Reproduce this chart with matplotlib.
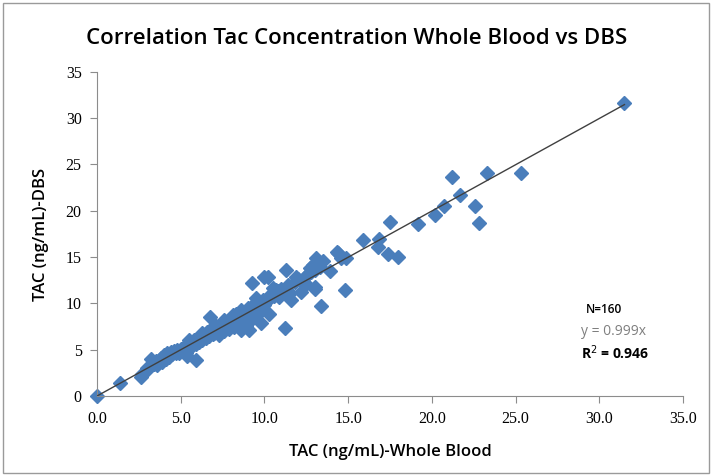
import matplotlib.pyplot as plt
from matplotlib.patches import Rectangle

# TAC whole blood (x) vs DBS (y)
wb = [0.0, 1.4, 2.6, 2.7, 2.9, 3.0, 3.2, 3.2, 3.4, 3.5, 3.6, 3.8, 3.9, 4.0, 4.1,
      4.2, 4.3, 4.4, 4.5, 4.6, 4.7, 4.8, 4.9, 5.0, 5.1, 5.2, 5.3, 5.35, 5.4, 5.5,
      5.6, 5.7, 5.8, 5.9, 5.9, 6.0, 6.1, 6.2, 6.3, 6.4, 6.5, 6.6, 6.7, 6.75, 6.8,
      6.9, 7.0, 7.0, 7.1, 7.2, 7.3, 7.3, 7.4, 7.5, 7.5, 7.6, 7.7, 7.7, 7.8, 7.9,
      7.9, 8.0, 8.0, 8.1, 8.2, 8.2, 8.3, 8.4, 8.4, 8.5, 8.6, 8.6, 8.7, 8.8, 8.8,
      8.9, 8.9, 9.0, 9.1, 9.1, 9.2, 9.24, 9.3, 9.3, 9.4, 9.5, 9.5, 9.6, 9.7, 9.8,
      9.8, 9.9, 10.0, 10.0, 10.1, 10.2, 10.2, 10.3, 10.4, 10.5, 10.6, 10.8, 10.9,
      11.0, 11.2, 11.3, 11.4, 11.5, 11.6, 11.8, 12.0, 12.2, 12.4, 12.4, 12.6, 12.7,
      12.8, 12.9, 13.0, 13.0, 13.05, 13.1, 13.2, 13.3, 13.4, 13.5, 13.9, 14.35,
      14.4, 14.6, 14.8, 14.85, 15.9, 16.8, 16.85, 17.4, 17.5, 18.0, 19.15, 20.2,
      20.7, 21.2, 21.7, 22.6, 22.8, 23.3, 25.3, 31.5,
      5.5, 6.3, 7.1, 7.6, 8.1, 8.6, 9.0, 9.6, 10.7, 11.9, 12.5, 6.9, 8.3]
dbs = [0.0, 1.4, 2.1, 2.4, 2.7, 3.0, 3.4, 4.0, 3.5, 3.8, 3.3, 4.1, 3.7, 4.4, 4.0,
       4.6, 4.2, 4.8, 4.5, 4.9, 4.6, 5.0, 4.7, 5.1, 5.0, 5.3, 4.6, 4.3, 5.5, 5.2,
       5.8, 5.4, 6.0, 3.9, 5.6, 6.2, 5.8, 6.4, 6.0, 6.6, 6.3, 6.9, 6.5, 8.5, 7.1,
       6.7, 7.3, 6.8, 7.0, 7.5, 7.2, 6.6, 7.7, 7.3, 7.9, 7.0, 8.0, 7.5, 7.8, 8.2,
       7.2, 8.4, 7.7, 8.0, 8.6, 7.4, 8.2, 8.8, 7.9, 8.5, 7.1, 9.0, 8.3, 8.8, 7.8,
       9.2, 7.6, 8.7, 9.4, 7.1, 9.0, 12.2, 9.6, 8.4, 9.9, 9.3, 10.6, 8.9, 10.1, 7.85,
       9.7, 10.4, 12.8, 9.8, 10.2, 12.9, 10.6, 8.9, 11.0, 11.7, 10.8, 11.3, 10.7,
       11.6, 7.3, 13.6, 12.0, 11.1, 10.4, 12.3, 12.6, 11.2, 12.2, 12.0, 13.2, 13.8,
       13.4, 14.2, 11.8, 13.6, 11.6, 14.9, 14.4, 13.9, 9.7, 14.6, 13.5, 15.6,
       15.4, 14.9, 11.4, 14.9, 16.8, 16.1, 17.0, 15.3, 18.8, 15.0, 18.6, 19.6,
       20.5, 23.6, 21.7, 20.5, 18.7, 24.1, 24.1, 31.6,
       6.0, 6.8, 7.6, 8.2, 8.7, 9.3, 9.5, 10.3, 11.4, 12.8, 13.0, 7.4, 8.9]

slope = 0.999
n_label = 'N=160'
eq_label = 'y = 0.999x'
r2_label = 'R$^2$ = 0.946'

xticks = [0, 5, 10, 15, 20, 25, 30, 35]
yticks = [0, 5, 10, 15, 20, 25, 30, 35]

fig = plt.figure(figsize=(7.13, 4.76), dpi=100)
ax = fig.add_axes([0.136, 0.168, 0.822, 0.681])

# trend line through origin
x_fit = [0, max(wb)]
ax.plot(x_fit, [slope * v for v in x_fit], color='#404040', linewidth=1, zorder=3)
ax.plot(wb, dbs, linestyle='none', marker='D', markersize=7,
        color='#4A7EBB', markeredgecolor='#4A7EBB', zorder=2, clip_on=False)

ax.set_xlim(0, 35)
ax.set_ylim(0, 35)
ax.set_xticks(xticks)
ax.set_xticklabels([f'{v:.1f}' for v in xticks], family='Liberation Serif', fontsize=11.5)
ax.set_yticks(yticks)
ax.set_yticklabels([str(v) for v in yticks], family='Liberation Serif', fontsize=11.5)
ax.tick_params(direction='out', length=5, color='#8c8c8c', pad=6)

for side in ['top', 'right']:
    ax.spines[side].set_visible(False)
for side in ['left', 'bottom']:
    ax.spines[side].set_color('#8c8c8c')

ax.set_xlabel('TAC (ng/mL)-Whole Blood', family='Open Sans', fontweight='semibold',
              fontsize=12, labelpad=12)
ax.set_ylabel('TAC (ng/mL)-DBS', family='Open Sans', fontweight='semibold',
              fontsize=12, labelpad=12)

fig.text(0.5, 0.92, 'Correlation Tac Concentration Whole Blood vs DBS',
         ha='center', va='center', family='Open Sans', fontweight='semibold',
         fontsize=16)

ax.text(29.2, 9.3, n_label, family='Open Sans', fontweight='semibold', fontsize=8.5,
        va='center')
ax.text(28.9, 7.0, eq_label, family='Open Sans', color='#7f7f7f', fontsize=10,
        va='center')
ax.text(28.9, 4.7, r2_label, family='Open Sans', fontweight='bold', fontsize=10,
        va='center')

# outer frame
fig.patches.append(Rectangle((0.004, 0.006), 0.99, 0.988, transform=fig.transFigure,
                             fill=False, edgecolor='#9a9a9a', linewidth=1))

fig.savefig('out.png', dpi=100)
